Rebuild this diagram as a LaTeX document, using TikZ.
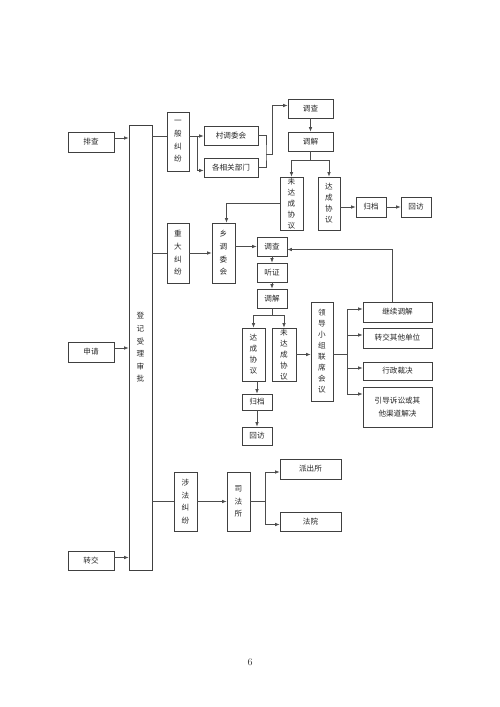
\documentclass[tikz,border=0pt]{standalone}
\usepackage{fontspec}
\newfontfamily\cjk{Noto Sans CJK SC}
\usetikzlibrary{arrows.meta}
\tikzset{
  box/.style={draw=black!75, line width=0.7pt, inner sep=0pt, align=center,
    font=\cjk\fontsize{7.6}{12.6}\selectfont, text=black!85},
  tight/.style={font=\cjk\fontsize{7.6}{11}\selectfont},
  ln/.style={draw=black!70, line width=0.7pt},
  arr/.style={ln, -{Latex[length=4.5pt,width=3.6pt]}}
}
\newcommand\bx[7][]{%
  \node[box,#1, minimum width={(#5-#3)*1pt}, minimum height={(#6-#4)*1pt}]
    (#2) at ({(#3+#5)/2},{(#4+#6)/2}) {#7};}
\begin{document}
\begin{tikzpicture}[x=1pt,y=-1pt]
\useasboundingbox (0,0) rectangle (500,707);
% left inputs
\bx{pc}{68}{132}{114}{152}{排查}
\bx{sq}{68}{342}{114}{362}{申请}
\bx{zj}{68}{551}{114}{570}{转交}
\bx{main}{129}{125}{152}{570}{登\\记\\受\\理\\审\\批}
% general disputes
\bx{yb}{167}{112}{189}{171}{一\\般\\纠\\纷}
\bx{cw}{204}{126}{258}{145}{村调委会}
\bx{gx}{204}{158}{258}{177}{各相关部门}
\bx{dca}{288}{99}{333}{118}{调查}
\bx{tja}{288}{132}{333}{151}{调解}
\bx[tight]{wda}{280}{177}{303}{230}{未\\达\\成\\协\\议}
\bx[tight]{dda}{318}{177}{340}{230}{达\\成\\协\\议}
\bx{gda}{356}{197}{386}{217}{归档}
\bx{hfa}{401}{197}{431}{217}{回访}
% major disputes
\bx{zd}{167}{223}{189}{283}{重\\大\\纠\\纷}
\bx{xt}{212}{223}{235}{283}{乡\\调\\委\\会}
\bx{dcb}{257}{237}{287}{256}{调查}
\bx{tz}{257}{263}{287}{282}{听证}
\bx{tjb}{257}{289}{287}{308}{调解}
\bx[tight]{ddb}{242}{328}{265}{381}{达\\成\\协\\议}
\bx[tight]{wdb}{272}{328}{296}{381}{未\\达\\成\\协\\议}
\bx{gdb}{242}{394}{272}{410}{归档}
\bx{hfb}{242}{427}{272}{445}{回访}
\bx[tight]{ld}{311}{302}{333}{401}{领\\导\\小\\组\\联\\席\\会\\议}
\bx{jx}{363}{302}{432}{322}{继续调解}
\bx{zz}{363}{328}{432}{348}{转交其他单位}
\bx{xz}{363}{362}{432}{380}{行政裁决}
\bx{yd}{363}{387}{432}{427}{引导诉讼或其\\他渠道解决}
% legal disputes
\bx{sf}{174}{472}{197}{531}{涉\\法\\纠\\纷}
\bx{sfs}{227}{472}{250}{531}{司\\法\\所}
\bx{pcs}{280}{459}{341}{479}{派出所}
\bx{fy}{280}{512}{341}{531}{法院}

% junction points
\coordinate (ja) at (197,136);
\coordinate (jb) at (266,154);
\coordinate (jc) at (310.5,160);
\coordinate (jd) at (272,315);
\coordinate (je) at (347,354.5);
\coordinate (jf) at (265,501.5);

% inputs to main
\draw[arr] ([yshift=4pt]pc.east) -- ([yshift=4pt]pc.east -| main.west);
\draw[arr] ([yshift=4pt]sq.east) -- ([yshift=4pt]sq.east -| main.west);
\draw[arr] ([yshift=3pt]zj.east) -- ([yshift=3pt]zj.east -| main.west);

% general
\draw[ln] (main.east |- ja) -- (yb.west |- ja);
\draw[ln] (yb.east |- ja) -- (ja);
\draw[arr] (ja) -- (cw.west |- ja);
\draw[arr] (ja) |- ([yshift=-3pt]gx.west);
\draw[ln] (cw.east) -| (jb) |- (gx.east);
\draw[arr] (jb) -- ++(6,0) |- ([yshift=3pt]dca.west);
\draw[arr] (dca) -- (tja);
\draw[ln] (tja.south) -- (jc);
\draw[arr] (jc) -| (wda.north);
\draw[arr] (jc) -| (dda.north);
\draw[arr] (dda.east |- gda.west) -- (gda.west);
\draw[arr] (gda) -- (hfa);
\draw[arr] (wda.west) -| ([xshift=3pt]xt.north);

% major
\draw[ln] (main.east |- zd.west) -- (zd.west);
\draw[arr] (zd) -- (xt);
\draw[arr] (xt.east |- dcb.west) -- (dcb.west);
\draw[arr] (dcb) -- (tz);
\draw[arr] (tz) -- (tjb);
\draw[ln] (tjb.south) -- (jd);
\draw[arr] (jd) -| (ddb.north);
\draw[arr] (jd) -| (wdb.north);
\draw[arr] (gdb.north |- ddb.south) -- (gdb.north);
\draw[arr] (gdb) -- (hfb);
\draw[arr] (wdb.east) -- (ld.west |- wdb.east);
\draw[ln] (ld.east |- je) -- (je);
\draw[arr] (je) |- ([yshift=3pt]jx.west);
\draw[arr] (je) |- ([yshift=3pt]zz.west);
\draw[arr] (je) |- ([yshift=3pt]xz.west);
\draw[arr] (je) |- ([yshift=13pt]yd.west);
\draw[arr] ([xshift=-5pt]jx.north) |- ([yshift=-3pt]dcb.east);

% legal
\draw[ln] (main.east |- sf.west) -- (sf.west);
\draw[arr] (sf) -- (sfs);
\draw[ln] (sfs.east) -- (jf);
\draw[arr] (jf) |- ([yshift=-3pt]pcs.west);
\draw[arr] (jf) |- ([yshift=-3pt]fy.west);

\node[font=\fontsize{10}{12}\selectfont, text=black!80] (pg) at (250,662) {6};
\end{tikzpicture}
\end{document}
